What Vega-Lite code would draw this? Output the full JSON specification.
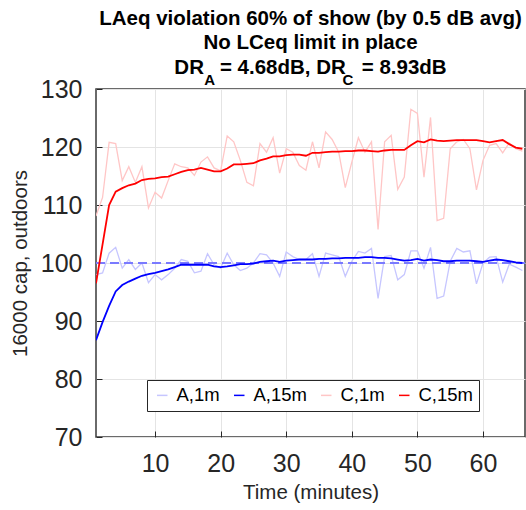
{
  "$schema": "https://vega.github.io/schema/vega-lite/v6.json",
  "width": 429,
  "height": 348,
  "autosize": {"type": "none"},
  "padding": {"left": 96, "top": 89, "right": 1, "bottom": 73},
  "background": "white",
  "title": {
    "text": ["LAeq violation 60% of show (by 0.5 dB avg)", "No LCeq limit in place", "DR\u2002 = 4.68dB, DR\u2002 = 8.93dB"],
    "subtitle": "A\u2002\u2002\u2002\u2002\u2002\u2002\u2002\u2002\u2002\u2002\u2002\u2002\u2002\u2002\u2002\u2002\u2002C\u2002\u2002\u2002\u2002\u2002\u2002\u2002\u2800",
    "anchor": "middle",
    "font": "Liberation Sans",
    "fontSize": 20.5,
    "fontWeight": "bold",
    "color": "#000000",
    "lineHeight": 24.5,
    "subtitleFont": "Liberation Sans",
    "subtitleFontSize": 15,
    "subtitleFontWeight": "bold",
    "subtitleColor": "#000000",
    "subtitlePadding": -5,
    "offset": -11
  },
  "data": {
    "values": [
      {"t": 1, "a1": 98.0, "a15": 86.7, "c1": 108.1, "c15": 96.5},
      {"t": 2, "a1": 98.3, "a15": 89.8, "c1": 111.3, "c15": 103.2},
      {"t": 3, "a1": 101.7, "a15": 92.6, "c1": 120.8, "c15": 110.0},
      {"t": 4, "a1": 102.7, "a15": 95.1, "c1": 120.6, "c15": 112.3},
      {"t": 5, "a1": 99.1, "a15": 96.2, "c1": 114.2, "c15": 112.9},
      {"t": 6, "a1": 100.6, "a15": 96.8, "c1": 116.6, "c15": 113.4},
      {"t": 7, "a1": 98.9, "a15": 97.3, "c1": 113.9, "c15": 113.7},
      {"t": 8, "a1": 100.0, "a15": 97.8, "c1": 116.6, "c15": 114.3},
      {"t": 9, "a1": 96.6, "a15": 98.1, "c1": 109.5, "c15": 114.5},
      {"t": 10, "a1": 98.0, "a15": 98.3, "c1": 112.2, "c15": 114.6},
      {"t": 11, "a1": 97.1, "a15": 98.6, "c1": 111.2, "c15": 114.8},
      {"t": 12, "a1": 98.0, "a15": 98.9, "c1": 114.2, "c15": 114.9},
      {"t": 13, "a1": 99.1, "a15": 99.3, "c1": 117.1, "c15": 115.3},
      {"t": 14, "a1": 100.6, "a15": 99.7, "c1": 116.6, "c15": 115.7},
      {"t": 15, "a1": 100.3, "a15": 99.7, "c1": 116.4, "c15": 116.0},
      {"t": 16, "a1": 98.3, "a15": 99.7, "c1": 115.1, "c15": 116.1},
      {"t": 17, "a1": 98.6, "a15": 99.7, "c1": 117.4, "c15": 116.4},
      {"t": 18, "a1": 101.6, "a15": 99.7, "c1": 118.3, "c15": 116.1},
      {"t": 19, "a1": 99.7, "a15": 99.4, "c1": 116.4, "c15": 115.8},
      {"t": 20, "a1": 99.1, "a15": 99.3, "c1": 115.9, "c15": 115.8},
      {"t": 21, "a1": 101.7, "a15": 99.4, "c1": 121.9, "c15": 116.3},
      {"t": 22, "a1": 99.7, "a15": 99.6, "c1": 120.9, "c15": 117.0},
      {"t": 23, "a1": 98.7, "a15": 99.8, "c1": 117.7, "c15": 117.0},
      {"t": 24, "a1": 99.1, "a15": 99.8, "c1": 113.9, "c15": 117.1},
      {"t": 25, "a1": 100.0, "a15": 99.9, "c1": 113.3, "c15": 117.2},
      {"t": 26, "a1": 101.6, "a15": 100.2, "c1": 120.6, "c15": 117.7},
      {"t": 27, "a1": 101.4, "a15": 100.3, "c1": 119.1, "c15": 118.0},
      {"t": 28, "a1": 100.0, "a15": 100.4, "c1": 121.6, "c15": 118.4},
      {"t": 29, "a1": 97.7, "a15": 100.2, "c1": 115.5, "c15": 118.4},
      {"t": 30, "a1": 101.9, "a15": 100.4, "c1": 119.7, "c15": 118.6},
      {"t": 31, "a1": 101.1, "a15": 100.5, "c1": 119.1, "c15": 118.7},
      {"t": 32, "a1": 100.6, "a15": 100.6, "c1": 116.8, "c15": 118.7},
      {"t": 33, "a1": 100.6, "a15": 100.6, "c1": 116.0, "c15": 118.5},
      {"t": 34, "a1": 101.6, "a15": 100.6, "c1": 120.9, "c15": 119.0},
      {"t": 35, "a1": 97.7, "a15": 100.7, "c1": 116.4, "c15": 119.0},
      {"t": 36, "a1": 101.7, "a15": 100.7, "c1": 122.6, "c15": 119.1},
      {"t": 37, "a1": 101.4, "a15": 100.8, "c1": 121.3, "c15": 119.2},
      {"t": 38, "a1": 101.1, "a15": 100.8, "c1": 119.1, "c15": 119.2},
      {"t": 39, "a1": 97.7, "a15": 100.9, "c1": 113.0, "c15": 119.3},
      {"t": 40, "a1": 100.3, "a15": 100.9, "c1": 117.4, "c15": 119.3},
      {"t": 41, "a1": 102.0, "a15": 100.9, "c1": 121.6, "c15": 119.4},
      {"t": 42, "a1": 101.7, "a15": 101.0, "c1": 119.1, "c15": 119.4},
      {"t": 43, "a1": 102.5, "a15": 101.0, "c1": 120.9, "c15": 119.3},
      {"t": 44, "a1": 93.9, "a15": 100.9, "c1": 105.8, "c15": 119.2},
      {"t": 45, "a1": 101.1, "a15": 100.9, "c1": 120.9, "c15": 119.4},
      {"t": 46, "a1": 101.3, "a15": 100.8, "c1": 122.0, "c15": 119.5},
      {"t": 47, "a1": 97.1, "a15": 100.6, "c1": 112.7, "c15": 119.5},
      {"t": 48, "a1": 98.0, "a15": 100.4, "c1": 114.8, "c15": 119.5},
      {"t": 49, "a1": 102.1, "a15": 100.5, "c1": 126.5, "c15": 120.3},
      {"t": 50, "a1": 102.1, "a15": 100.7, "c1": 125.8, "c15": 121.0},
      {"t": 51, "a1": 99.1, "a15": 100.4, "c1": 114.8, "c15": 120.8},
      {"t": 52, "a1": 102.7, "a15": 100.6, "c1": 125.1, "c15": 121.3},
      {"t": 53, "a1": 93.9, "a15": 100.5, "c1": 107.3, "c15": 121.1},
      {"t": 54, "a1": 94.3, "a15": 100.3, "c1": 107.7, "c15": 121.0},
      {"t": 55, "a1": 100.3, "a15": 100.3, "c1": 119.7, "c15": 121.1},
      {"t": 56, "a1": 102.5, "a15": 100.4, "c1": 120.9, "c15": 121.2},
      {"t": 57, "a1": 101.9, "a15": 100.4, "c1": 121.3, "c15": 121.2},
      {"t": 58, "a1": 102.1, "a15": 100.4, "c1": 119.7, "c15": 121.2},
      {"t": 59, "a1": 96.4, "a15": 100.3, "c1": 112.6, "c15": 121.2},
      {"t": 60, "a1": 100.0, "a15": 100.2, "c1": 117.7, "c15": 121.0},
      {"t": 61, "a1": 101.0, "a15": 100.4, "c1": 120.3, "c15": 120.8},
      {"t": 62, "a1": 101.1, "a15": 100.6, "c1": 120.6, "c15": 121.0},
      {"t": 63, "a1": 96.7, "a15": 100.5, "c1": 119.0, "c15": 121.2},
      {"t": 64, "a1": 99.8, "a15": 100.3, "c1": 120.7, "c15": 120.5},
      {"t": 65, "a1": 99.3, "a15": 100.1, "c1": 119.7, "c15": 119.9},
      {"t": 66, "a1": 98.7, "a15": 100.0, "c1": 119.3, "c15": 119.7}
    ]
  },
  "layer": [
    {
      "mark": {"type": "line", "strokeWidth": 1.3, "clip": true},
      "encoding": {
        "x": {
          "field": "t",
          "type": "quantitative",
          "scale": {"domain": [1, 66.4], "nice": false, "zero": false},
          "axis": {"values": [10, 20, 30, 40, 50, 60], "title": "Time (minutes)", "titlePadding": 6}
        },
        "y": {
          "field": "a1",
          "type": "quantitative",
          "scale": {"domain": [70, 130], "nice": false, "zero": false},
          "axis": {"values": [70, 80, 90, 100, 110, 120, 130], "title": "16000 cap, outdoors", "titlePadding": 10}
        },
        "color": {
          "datum": "A,1m",
          "scale": {
            "domain": ["A,1m", "A,15m", "C,1m", "C,15m"],
            "range": ["#c6c6ff", "#0000ff", "#ffc6c6", "#ff0000"]
          },
          "legend": {
            "title": null,
            "orient": "none",
            "legendX": 51,
            "legendY": 291,
            "direction": "horizontal",
            "columns": 4,
            "strokeColor": "#262626",
            "fillColor": "#ffffff",
            "padding": 6,
            "labelFont": "Liberation Sans",
            "labelFontSize": 18.5,
            "labelColor": "#000000",
            "symbolType": "stroke",
            "symbolSize": 110,
            "symbolStrokeWidth": 1.5,
            "columnPadding": 10,
            "labelOffset": 5
          }
        }
      }
    },
    {
      "mark": {"type": "line", "strokeWidth": 1.3, "clip": true},
      "encoding": {
        "x": {"field": "t", "type": "quantitative"},
        "y": {"field": "c1", "type": "quantitative"},
        "color": {"datum": "C,1m"}
      }
    },
    {
      "mark": {"type": "rule", "color": "#7a7aff", "strokeWidth": 2, "strokeDash": [9, 5]},
      "encoding": {"y": {"datum": 100}}
    },
    {
      "mark": {"type": "line", "strokeWidth": 1.8, "clip": true},
      "encoding": {
        "x": {"field": "t", "type": "quantitative"},
        "y": {"field": "a15", "type": "quantitative"},
        "color": {"datum": "A,15m"}
      }
    },
    {
      "mark": {"type": "line", "strokeWidth": 1.8, "clip": true},
      "encoding": {
        "x": {"field": "t", "type": "quantitative"},
        "y": {"field": "c15", "type": "quantitative"},
        "color": {"datum": "C,15m"}
      }
    }
  ],
  "config": {
    "font": "Liberation Sans",
    "view": {"stroke": "#3a3a3a", "strokeWidth": 1.5},
    "axis": {
      "domain": false,
      "grid": true,
      "gridColor": "#e4e4e4",
      "gridWidth": 1,
      "tickColor": "#262626",
      "tickSize": -6,
      "tickWidth": 1,
      "labelFont": "Liberation Sans",
      "labelFontSize": 25,
      "labelColor": "#262626",
      "labelPadding": 20,
      "titleFont": "Liberation Sans",
      "titleFontSize": 20.5,
      "titleFontWeight": "normal",
      "titleColor": "#262626"
    }
  }
}
